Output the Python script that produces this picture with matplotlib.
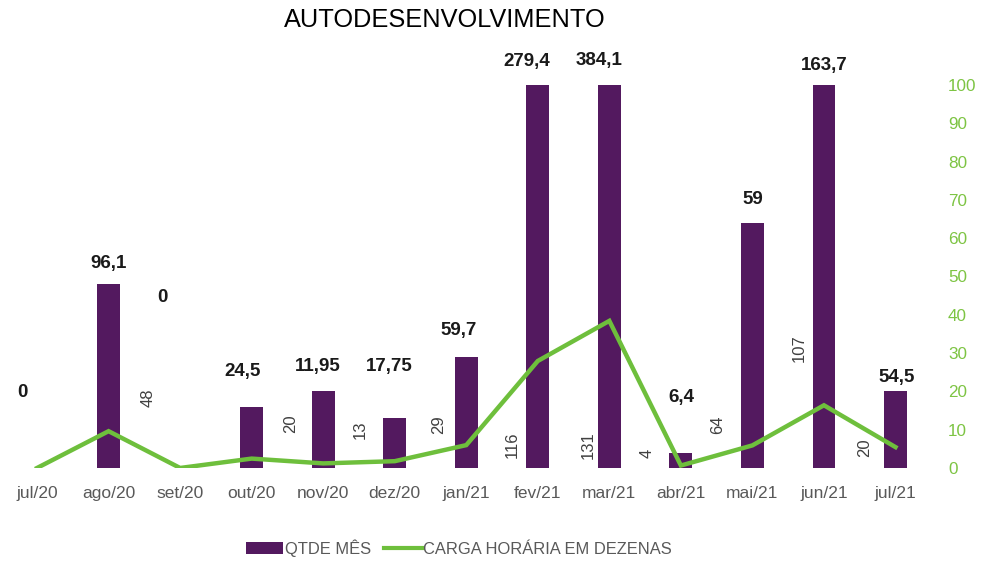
import matplotlib
matplotlib.use("Agg")
import matplotlib.pyplot as plt
from matplotlib.patches import Patch
from matplotlib.lines import Line2D

months = ["jul/20", "ago/20", "set/20", "out/20", "nov/20", "dez/20", "jan/21",
          "fev/21", "mar/21", "abr/21", "mai/21", "jun/21", "jul/21"]
qtde_mes = [0, 48, 0, 16, 20, 13, 29, 116, 131, 4, 64, 107, 20]
carga_horas = [0, 96.1, 0, 24.5, 11.95, 17.75, 59.7, 279.4, 384.1, 6.4, 59, 163.7, 54.5]
carga_labels = ["0", "96,1", "0", "24,5", "11,95", "17,75", "59,7", "279,4", "384,1",
                "6,4", "59", "163,7", "54,5"]
qtde_labels = ["", "48", "", "", "20", "13", "29", "116", "131", "4", "64", "107", "20"]

carga_dezenas = [v / 10 for v in carga_horas]

# label placement (x offset in category units, y in axis units)
carga_lbl_dx = [-0.21, 0.0, -0.25, -0.13, -0.07, -0.08, -0.1, -0.15, -0.14, 0.0, 0.0, 0.0, 0.01]
carga_lbl_y = [19.8, 53.5, 44.4, 25.3, 26.6, 26.4, 36, 106, 106.5, 18.3, 70, 105.2, 23.5]
qtde_lbl_dx = [0, 0.55, 0, 0, -0.46, -0.48, -0.39, -0.36, -0.29, -0.47, -0.48, -0.34, -0.43]
qtde_lbl_y = [0, 18.3, 0, 0, 11.5, 9.9, 11.2, 6, 6, 3.9, 11.2, 31.3, 5.2]

BAR = "#53195F"
LINE = "#6EBF3C"
TICKG = "#7DC443"
GRAY = "#595959"

fig = plt.figure(figsize=(9.81, 5.62), dpi=100)
ax = fig.add_axes([0.0013, 0.1673, 0.948, 0.6815])
x = list(range(len(months)))

ax.bar(x, qtde_mes, width=0.32, color=BAR, zorder=2)
ax.plot(x, carga_dezenas, color=LINE, lw=3.2, zorder=3, solid_joinstyle="miter")

ax.set_xlim(-0.5, len(months) - 0.5)
ax.set_ylim(0, 100)
ax.yaxis.tick_right()
ax.set_yticks(range(0, 101, 10))
ax.tick_params(axis="y", length=0, pad=12, labelcolor=TICKG, labelsize=12.3)
ax.set_xticks(x)
ax.set_xticklabels(months)
ax.tick_params(axis="x", length=0, pad=13, labelcolor=GRAY, labelsize=12.5)
for lbl in ax.get_yticklabels() + ax.get_xticklabels():
    lbl.set_fontfamily("Liberation Sans")
for s in ax.spines.values():
    s.set_visible(False)

for i in x:
    ax.text(i + carga_lbl_dx[i], carga_lbl_y[i], carga_labels[i], ha="center", va="center",
            fontsize=13.5, fontweight="bold", color="#1a1a1a", family="Liberation Sans",
            zorder=5, clip_on=False)
    if qtde_labels[i]:
        ax.text(i + qtde_lbl_dx[i], qtde_lbl_y[i], qtde_labels[i], ha="center", va="center",
                rotation=90, fontsize=12, color="#404040", family="Liberation Sans",
                zorder=6, bbox=dict(facecolor="white", edgecolor="none", pad=1))

fig.text(0.4536, 0.9644, "AUTODESENVOLVIMENTO", ha="center", va="center",
         fontsize=18.3, color="black", family="Liberation Sans")

handles = [Patch(facecolor=BAR, edgecolor="none"),
           Line2D([0], [0], color=LINE, lw=3)]
leg = fig.legend(handles, ["QTDE MÊS", "CARGA HORÁRIA EM DEZENAS"], loc="center",
                 bbox_to_anchor=(0.468, 0.025), ncol=2, frameon=False,
                 prop={"family": "Liberation Sans", "size": 11.9},
                 handlelength=2.25, handletextpad=0.1, columnspacing=0.8, handleheight=0.8)
for t in leg.get_texts():
    t.set_color(GRAY)

fig.savefig("out.png", dpi=100, facecolor="white")
